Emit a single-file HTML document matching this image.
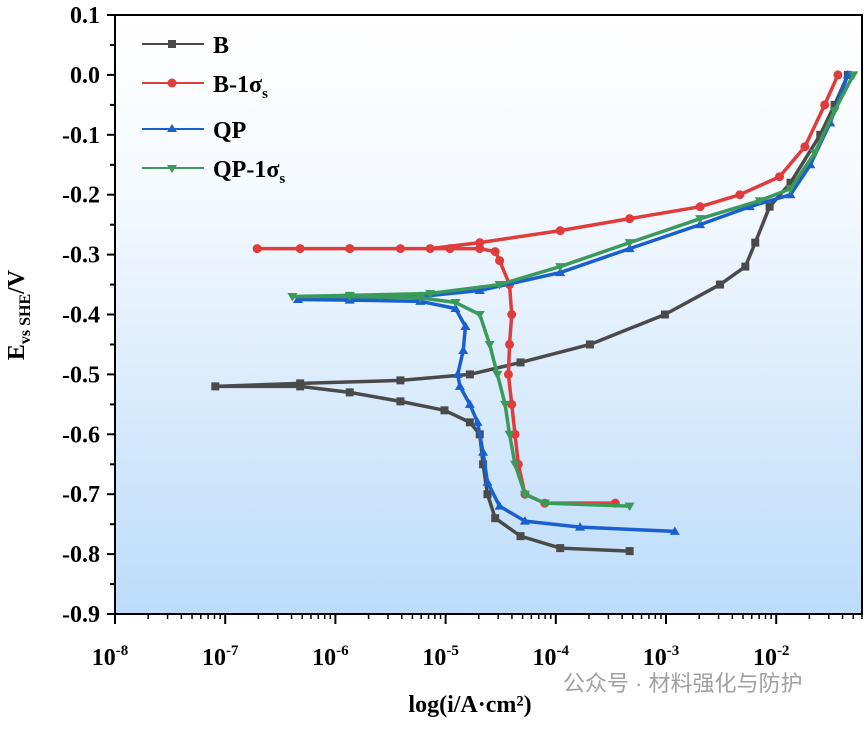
<!DOCTYPE html>
<html><head><meta charset="utf-8"><style>
body{margin:0;background:#fff;width:865px;height:724px;overflow:hidden}
svg text{font-family:"Liberation Serif",serif;font-weight:bold}
</style></head><body>
<svg id="chart" width="865" height="724" viewBox="0 0 865 724">
<defs><linearGradient id="bg" x1="0" y1="0" x2="0" y2="1"><stop offset="0" stop-color="#ffffff"/><stop offset="0.3" stop-color="#f4f9fe"/><stop offset="1" stop-color="#bcdcfa"/></linearGradient></defs>
<rect x="115" y="15" width="747" height="599" fill="url(#bg)" stroke="#000" stroke-width="2"/>
<g id="axes"></g><g id="series"></g>
<g>
<line x1="142" y1="44" x2="204" y2="44" stroke="#4a4a4a" stroke-width="2"/><rect x="168" y="40" width="8" height="8" fill="#4a4a4a"/>
<text x="213" y="53" font-size="24">B</text>
<line x1="142" y1="83" x2="204" y2="83" stroke="#e03c3c" stroke-width="2"/><circle cx="172" cy="83" r="4.5" fill="#e03c3c"/>
<text x="213" y="92" font-size="24">B-1σ<tspan font-size="15" dy="6">s</tspan></text>
<line x1="142" y1="129" x2="204" y2="129" stroke="#1a5fd0" stroke-width="2"/><path d="M172 124 L177 132 L167 132Z" fill="#1a5fd0"/>
<text x="213" y="138" font-size="24">QP</text>
<line x1="142" y1="168" x2="204" y2="168" stroke="#3a9a5a" stroke-width="2"/><path d="M172 173 L177 165 L167 165Z" fill="#3a9a5a"/>
<text x="213" y="177" font-size="24">QP-1σ<tspan font-size="15" dy="6">s</tspan></text>
</g>
<text transform="translate(24,315) rotate(-90)" text-anchor="middle" font-size="24">E<tspan font-size="16" dy="6">vs SHE</tspan><tspan dy="-6">/V</tspan></text>
<text x="470" y="712" text-anchor="middle" font-size="24">log(i/A·cm²)</text>
<text x="563" y="691" font-size="22" fill="#a0a0a0" style="font-family:'Liberation Sans','Noto Sans CJK SC',sans-serif;font-weight:normal">公众号 · 材料强化与防护</text>
</svg>
<script>
const yTicks=[0.1,0.0,-0.1,-0.2,-0.3,-0.4,-0.5,-0.6,-0.7,-0.8,-0.9];
const xDecades=[-8,-7,-6,-5,-4,-3,-2];
const bLog=[-3.33,-3.96,-4.32,-4.55,-4.62,-4.66,-4.69,-4.78,-5.01,-5.41,-5.87,-6.32,-7.09,-6.32,-5.41,-4.78,-4.32,-3.69,-3.01,-2.51,-2.28,-2.19,-2.06,-1.87,-1.60,-1.47,-1.35];
const bE=[-0.795,-0.79,-0.77,-0.74,-0.70,-0.65,-0.60,-0.58,-0.56,-0.545,-0.53,-0.52,-0.52,-0.515,-0.51,-0.50,-0.48,-0.45,-0.40,-0.35,-0.32,-0.28,-0.22,-0.18,-0.10,-0.05,0.0];
const rLog=[-3.46,-4.10,-4.28,-4.34,-4.37,-4.40,-4.43,-4.42,-4.40,-4.42,-4.51,-4.55,-4.69,-4.96,-5.41,-5.87,-6.32,-6.71,-5.87,-5.14,-4.69,-3.96,-3.33,-2.69,-2.33,-1.97,-1.74,-1.56,-1.44];
const rE=[-0.715,-0.715,-0.70,-0.65,-0.60,-0.55,-0.50,-0.45,-0.40,-0.35,-0.31,-0.295,-0.29,-0.29,-0.29,-0.29,-0.29,-0.29,-0.29,-0.29,-0.28,-0.26,-0.24,-0.22,-0.20,-0.17,-0.12,-0.05,0.0];
const qLog=[-2.92,-3.78,-4.28,-4.51,-4.62,-4.66,-4.71,-4.78,-4.87,-4.89,-4.84,-4.82,-4.91,-5.23,-5.87,-6.34,-5.87,-5.23,-4.69,-3.96,-3.33,-2.69,-2.24,-1.87,-1.69,-1.51,-1.35];
const qE=[-0.762,-0.755,-0.745,-0.72,-0.68,-0.63,-0.58,-0.55,-0.52,-0.50,-0.46,-0.42,-0.39,-0.378,-0.376,-0.375,-0.373,-0.37,-0.36,-0.33,-0.29,-0.25,-0.22,-0.20,-0.15,-0.08,0.0];
const gLog=[-3.33,-4.10,-4.28,-4.37,-4.42,-4.46,-4.53,-4.60,-4.69,-4.91,-5.23,-5.87,-6.39,-5.87,-5.14,-4.51,-3.96,-3.33,-2.69,-2.15,-1.87,-1.65,-1.47,-1.30];
const gE=[-0.72,-0.715,-0.70,-0.65,-0.60,-0.55,-0.50,-0.45,-0.40,-0.38,-0.372,-0.37,-0.37,-0.368,-0.365,-0.35,-0.32,-0.28,-0.24,-0.21,-0.19,-0.13,-0.06,0.0];
const NS="http://www.w3.org/2000/svg";
const xS=l=>115+(l+8)*110.2, yS=e=>15+(0.1-e)*599;
function mk(t,a,p){const e=document.createElementNS(NS,t);for(const k in a)e.setAttribute(k,a[k]);p.appendChild(e);return e;}
const ax=document.getElementById('axes');
yTicks.forEach((v,i)=>{const y=yS(v);
 mk('line',{x1:107,x2:115,y1:y,y2:y,stroke:'#000','stroke-width':2},ax);
 if(i<yTicks.length-1)mk('line',{x1:110,x2:115,y1:y+30,y2:y+30,stroke:'#000','stroke-width':2},ax);
 const t=mk('text',{x:100,y:y+8,'text-anchor':'end','font-size':24},ax);t.textContent=v.toFixed(1);
 
 });
xDecades.forEach(d=>{const x=xS(d);
 mk('line',{x1:x,x2:x,y1:614,y2:624,stroke:'#000','stroke-width':2},ax);
 for(let m=2;m<10;m++){const xm=xS(d+Math.log10(m));if(xm<862)mk('line',{x1:xm,x2:xm,y1:614,y2:619,stroke:'#000','stroke-width':1.5},ax);}
 const t=mk('text',{x:x-5,y:665,'text-anchor':'middle','font-size':24},ax);t.textContent='10';
 
 
 const s=mk('tspan',{'font-size':15,dy:-10},t);s.textContent=String(d);});
const sg=document.getElementById('series');
function series(L,E,col,shape,name){
 const g=mk('g',{},sg);
 
 
 mk('polyline',{points:L.map((l,i)=>xS(l)+','+yS(E[i])).join(' '),fill:'none',stroke:col,'stroke-width':3.5,'stroke-linejoin':'round'},g);
 L.forEach((l,i)=>{const x=xS(l),y=yS(E[i]);
  if(shape==='sq')mk('rect',{x:x-4,y:y-4,width:8,height:8,fill:col},g);
  else if(shape==='c')mk('circle',{cx:x,cy:y,r:4.5,fill:col},g);
  else if(shape==='up')mk('path',{d:`M${x} ${y-5}L${x+5} ${y+3.5}L${x-5} ${y+3.5}Z`,fill:col},g);
  else mk('path',{d:`M${x} ${y+5}L${x+5} ${y-3.5}L${x-5} ${y-3.5}Z`,fill:col},g);});}
series(bLog,bE,'#4a4a4a','sq','series-b');
series(rLog,rE,'#e03c3c','c','series-b-1s');
series(qLog,qE,'#1a5fd0','up','series-qp');
series(gLog,gE,'#3a9a5a','dn','series-qp-1s');
</script>
</body></html>
